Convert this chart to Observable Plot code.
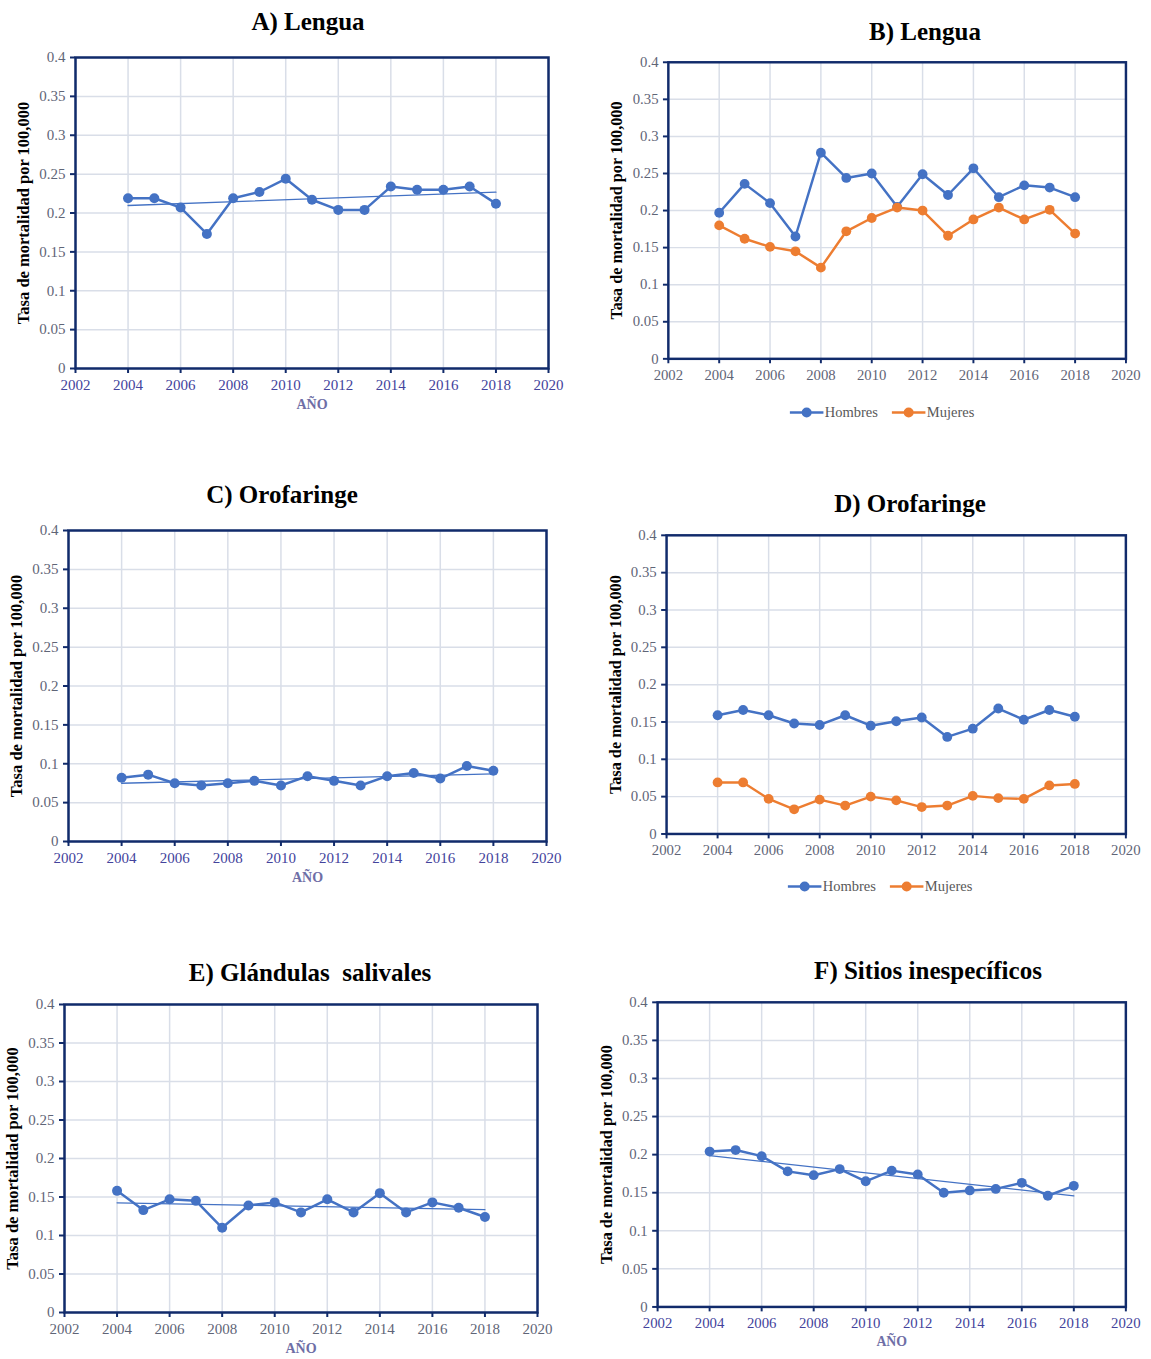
<!DOCTYPE html>
<html>
<head>
<meta charset="utf-8">
<script src="https://cdn.jsdelivr.net/npm/d3@7"></script>
<script src="https://cdn.jsdelivr.net/npm/@observablehq/plot@0.6"></script>
<style>
  html, body { margin: 0; padding: 0; background: #fff; }
  #root { position: relative; width: 1151px; height: 1359px; overflow: hidden; background: #fff; font-family: "Liberation Serif", "DejaVu Serif", serif; }
  .title { position: absolute; transform: translate(-50%, -50%); font-weight: bold; font-size: 25px; color: #000; white-space: pre; }
  .panel { position: absolute; }
  .panel svg, .panel svg text { font-family: "Liberation Serif", serif !important; }
  .legend { position: absolute; transform: translate(-50%, -50%); display: flex; gap: 14px; font-size: 14.5px; color: #595959; white-space: nowrap; }
  .legend span { display: inline-flex; align-items: center; gap: 1px; }
</style>
</head>
<body>
<div id="root"></div>
<script>
// ---- data ----
const years = [2004, 2005, 2006, 2007, 2008, 2009, 2010, 2011, 2012, 2013, 2014, 2015, 2016, 2017, 2018];
const lenguaTotal     = [0.219, 0.219, 0.207, 0.173, 0.219, 0.227, 0.244, 0.217, 0.204, 0.204, 0.234, 0.230, 0.230, 0.234, 0.212];
const lenguaHombres   = [0.197, 0.236, 0.210, 0.165, 0.278, 0.244, 0.250, 0.205, 0.249, 0.221, 0.257, 0.218, 0.234, 0.231, 0.218];
const lenguaMujeres   = [0.180, 0.162, 0.151, 0.145, 0.123, 0.172, 0.190, 0.204, 0.200, 0.166, 0.188, 0.204, 0.188, 0.201, 0.169];
const orofaringeTotal = [0.082, 0.086, 0.075, 0.072, 0.075, 0.078, 0.072, 0.084, 0.078, 0.072, 0.084, 0.088, 0.081, 0.097, 0.091];
const orofaringeHombres = [0.159, 0.166, 0.159, 0.148, 0.146, 0.159, 0.145, 0.151, 0.156, 0.130, 0.141, 0.168, 0.153, 0.166, 0.157];
const orofaringeMujeres = [0.069, 0.069, 0.047, 0.033, 0.046, 0.038, 0.050, 0.045, 0.036, 0.038, 0.051, 0.048, 0.047, 0.065, 0.067];
const glandulasTotal  = [0.158, 0.133, 0.147, 0.145, 0.110, 0.139, 0.143, 0.130, 0.147, 0.130, 0.155, 0.130, 0.143, 0.136, 0.124];
const inespecificosTotal = [0.204, 0.206, 0.198, 0.178, 0.173, 0.181, 0.165, 0.179, 0.174, 0.150, 0.153, 0.155, 0.163, 0.146, 0.159];
const xTicks = [2002, 2004, 2006, 2008, 2010, 2012, 2014, 2016, 2018, 2020];
const yTicks = [0, 0.05, 0.1, 0.15, 0.2, 0.25, 0.3, 0.35, 0.4];
const seriesNames = ["Hombres", "Mujeres"];
const yLabel = "Tasa de mortalidad por 100,000";
const xLabel = "AÑO";

// ---- styles ----
const BLUE = "#4472C4", ORANGE = "#ED7D31", NAVY = "#112B6B", GRID = "#D9DEE8";
const GRAY_TXT = "#5F6577", PURPLE_TXT = "#43439C", XLABEL_TXT = "#6E6EA6";
const FONT = "'Liberation Serif', serif";

const root = document.getElementById("root");

const ML = 64, MR = 26, MT = 12, MB = 52;

const panels = [
  { title: "A) Lengua", tx: 308, ty: 22, frame: {l: 75, r: 548, t: 57, b: 368}, xColor: PURPLE_TXT, xTitle: true,
    series: [{name: null, values: lenguaTotal, color: BLUE}], trend: true },
  { title: "B) Lengua", tx: 925, ty: 32, frame: {l: 669, r: 1135, t: 62, b: 364}, xColor: GRAY_TXT, xTitle: false,
    series: [{name: seriesNames[0], values: lenguaHombres, color: BLUE}, {name: seriesNames[1], values: lenguaMujeres, color: ORANGE}],
    trend: false, legend: {x: 882, y: 412} },
  { title: "C) Orofaringe", tx: 282, ty: 495, frame: {l: 68, r: 546, t: 530, b: 841}, xColor: PURPLE_TXT, xTitle: true,
    series: [{name: null, values: orofaringeTotal, color: BLUE}], trend: true },
  { title: "D) Orofaringe", tx: 910, ty: 504, frame: {l: 667, r: 1133, t: 535, b: 838}, xColor: GRAY_TXT, xTitle: false,
    series: [{name: seriesNames[0], values: orofaringeHombres, color: BLUE}, {name: seriesNames[1], values: orofaringeMujeres, color: ORANGE}],
    trend: false, legend: {x: 880, y: 886} },
  { title: "E) Glándulas\u00a0 salivales", tx: 310, ty: 973, frame: {l: 64, r: 537, t: 1004, b: 1312}, xColor: GRAY_TXT, xTitle: true,
    series: [{name: null, values: glandulasTotal, color: BLUE}], trend: true },
  { title: "F) Sitios inespecíficos", tx: 928, ty: 971, frame: {l: 658, r: 1133, t: 1002, b: 1311}, xColor: PURPLE_TXT, xTitle: true,
    series: [{name: null, values: inespecificosTotal, color: BLUE}], trend: true }
];

function fmtY(d) { return String(+d.toFixed(2)); }

for (const p of panels) {
  const f = p.frame;
  const width = ML + (f.r - f.l) + MR;
  const height = MT + (f.b - f.t) + MB;
  const marks = [
    Plot.gridX(xTicks, {stroke: GRID, strokeOpacity: 1, strokeWidth: 1.5}),
    Plot.gridY(yTicks, {stroke: GRID, strokeOpacity: 1, strokeWidth: 1.5}),
    Plot.axisX(xTicks, {tickSize: 5, tickPadding: 6, stroke: NAVY, strokeWidth: 2, fill: p.xColor, fontSize: 15, fontFamily: FONT, label: null, tickFormat: d => String(d)}),
    Plot.axisY(yTicks, {tickSize: 5, tickPadding: 5, stroke: NAVY, strokeWidth: 2, fill: GRAY_TXT, fontSize: 15, fontFamily: FONT, label: null, tickFormat: fmtY}),
    Plot.frame({stroke: NAVY, strokeWidth: 2.5}),
    Plot.text([yLabel], {frameAnchor: "left", textAnchor: "middle", lineAnchor: "middle", dx: -52, rotate: -90, fontWeight: "bold", fontSize: 16.5, fontFamily: FONT, fill: "#000"})
  ];
  if (p.xTitle) {
    marks.push(Plot.text([xLabel], {frameAnchor: "bottom", dy: 40, fontWeight: "bold", fontSize: 14, fontFamily: FONT, fill: XLABEL_TXT}));
  }
  for (const s of p.series) {
    const data = years.map((yr, i) => ({year: yr, value: s.values[i]}));
    if (p.trend) {
      marks.push(Plot.linearRegressionY(data, {x: "year", y: "value", ci: 0, stroke: s.color, strokeWidth: 1.3}));
    }
    marks.push(Plot.line(data, {x: "year", y: "value", stroke: s.color, strokeWidth: 2.5}));
    marks.push(Plot.dot(data, {x: "year", y: "value", r: 5, fill: s.color, stroke: "none"}));
  }
  const chart = Plot.plot({
    width, height,
    marginLeft: ML, marginRight: MR, marginTop: MT, marginBottom: MB,
    style: `font-family: ${FONT}; background: transparent; overflow: visible;`,
    x: {domain: [2002, 2020]},
    y: {domain: [0, 0.4]},
    marks
  });
  const wrap = document.createElement("div");
  wrap.className = "panel";
  wrap.style.left = (f.l - ML) + "px";
  wrap.style.top = (f.t - MT) + "px";
  wrap.appendChild(chart);
  root.appendChild(wrap);

  const t = document.createElement("div");
  t.className = "title";
  t.textContent = p.title;
  t.style.left = p.tx + "px";
  t.style.top = p.ty + "px";
  root.appendChild(t);

  if (p.legend) {
    const lg = document.createElement("div");
    lg.className = "legend";
    lg.style.left = p.legend.x + "px";
    lg.style.top = p.legend.y + "px";
    for (const s of p.series) {
      const item = document.createElement("span");
      item.innerHTML = `<svg width="34" height="12"><line x1="0" y1="6" x2="34" y2="6" stroke="${s.color}" stroke-width="2.5"/><circle cx="17" cy="6" r="5" fill="${s.color}"/></svg>`;
      item.appendChild(document.createTextNode(s.name));
      lg.appendChild(item);
    }
    root.appendChild(lg);
  }
}
</script>
</body>
</html>
